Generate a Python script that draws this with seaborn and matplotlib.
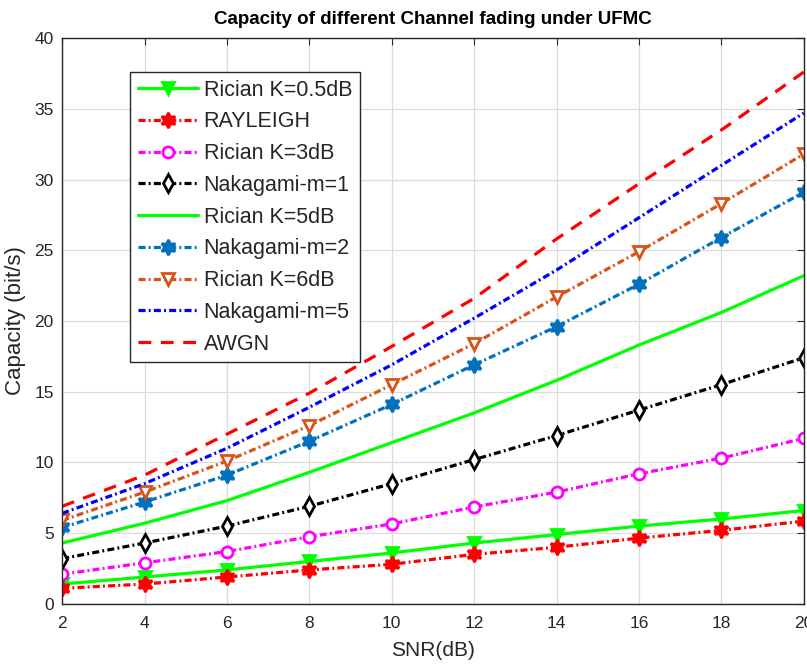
import numpy as np
import pandas as pd
import matplotlib
matplotlib.use("Agg")
import matplotlib.pyplot as plt
import seaborn as sns

snr = [2, 4, 6, 8, 10, 12, 14, 16, 18, 20]
rician_k05 = [1.4, 1.9, 2.4, 3.0, 3.6, 4.3, 4.9, 5.5, 6.0, 6.6]
rayleigh = [1.1, 1.4, 1.9, 2.4, 2.8, 3.5, 4.0, 4.65, 5.2, 5.85]
rician_k3 = [2.1, 2.9, 3.7, 4.75, 5.65, 6.85, 7.9, 9.2, 10.3, 11.7]
nakagami_m1 = [3.2, 4.3, 5.5, 6.9, 8.5, 10.2, 11.9, 13.7, 15.5, 17.4]
rician_k5 = [4.3, 5.7, 7.3, 9.3, 11.4, 13.5, 15.8, 18.3, 20.6, 23.2]
nakagami_m2 = [5.4, 7.2, 9.1, 11.5, 14.1, 16.9, 19.6, 22.6, 25.9, 29.1]
rician_k6 = [5.9, 7.9, 10.1, 12.6, 15.5, 18.4, 21.7, 24.9, 28.3, 31.8]
nakagami_m5 = [6.4, 8.5, 11.0, 13.9, 16.9, 20.2, 23.6, 27.3, 31.0, 34.7]
awgn = [6.9, 9.1, 12.0, 14.9, 18.2, 21.6, 25.8, 29.7, 33.5, 37.6]

labels = ["Rician K=0.5dB", "RAYLEIGH", "Rician K=3dB", "Nakagami-m=1",
          "Rician K=5dB", "Nakagami-m=2", "Rician K=6dB", "Nakagami-m=5", "AWGN"]
series = [rician_k05, rayleigh, rician_k3, nakagami_m1, rician_k5,
          nakagami_m2, rician_k6, nakagami_m5, awgn]

sns.set_theme(style="white")
plt.rcParams['font.family'] = ['Liberation Sans', 'DejaVu Sans']

hexagram = (6, 1, 0)
DASHDOT = (2.2, 1.0, 0.6, 1.0)
DASHED = (4, 3)
styles = [
    dict(color="#00FF00", dash=None, marker="v", mfc="#00FF00", ms=8),
    dict(color="#FF0000", dash=DASHDOT, marker=hexagram, mfc="#FF0000", ms=11),
    dict(color="#FF00FF", dash=DASHDOT, marker="o", mfc="white", ms=8),
    dict(color="#000000", dash=DASHDOT, marker="d", mfc="white", ms=9),
    dict(color="#00FF00", dash=None, marker=None, mfc=None, ms=0),
    dict(color="#0072BD", dash=DASHDOT, marker=hexagram, mfc="#0072BD", ms=11),
    dict(color="#D95319", dash=DASHDOT, marker="v", mfc="white", ms=9),
    dict(color="#0000FF", dash=DASHDOT, marker=None, mfc=None, ms=0),
    dict(color="#FF0000", dash=DASHED, marker=None, mfc=None, ms=0),
]

fig = plt.figure(figsize=(8.07, 6.68), dpi=100)
ax = fig.add_axes([0.077, 0.096, 0.919, 0.847])

for lab, vals, st in zip(labels, series, styles):
    df = pd.DataFrame({"SNR": snr, "Capacity": vals})
    kw = dict(color=st["color"], linewidth=2.3, label=lab)
    if st["dash"] is None:
        kw["linestyle"] = "-"
    else:
        kw["linestyle"] = (0, st["dash"])
    if st["marker"] is not None:
        kw.update(marker=st["marker"], markersize=st["ms"], markerfacecolor=st["mfc"],
                  markeredgecolor=st["color"], markeredgewidth=2)
    sns.lineplot(data=df, x="SNR", y="Capacity", ax=ax, **kw)

ax.set_xlim(2, 20)
ax.set_ylim(0, 40)
ax.set_xticks(range(2, 21, 2))
ax.set_yticks(range(0, 41, 5))
ax.grid(True, color="#dcdcdc", linewidth=0.9)
ax.tick_params(direction="in", top=True, right=True, length=5, labelsize=12.5,
               colors="#262626", width=0.8)
ax.tick_params(axis="x", pad=9)
ax.tick_params(axis="y", pad=6)
for sp in ax.spines.values():
    sp.set_color("#262626")
    sp.set_linewidth(1.0)

ax.set_xlabel("SNR(dB)", fontsize=15, color="#262626", labelpad=7)
ax.set_ylabel("Capacity (bit/s)", fontsize=16, color="#262626", labelpad=6)
ax.set_title("Capacity of different Channel fading under UFMC", fontsize=13.5,
             fontweight="bold", color="black", pad=10)

leg = ax.legend(loc="upper left", bbox_to_anchor=(0.092, 0.94), borderaxespad=0,
                fontsize=15.5, handlelength=2.8, handletextpad=0.25, labelspacing=0.5,
                frameon=True, fancybox=False, framealpha=1, borderpad=0.35)
leg.get_frame().set_edgecolor("#262626")
leg.get_frame().set_linewidth(1.0)
for t in leg.get_texts():
    t.set_color("#262626")

fig.savefig("out.png", dpi=100)
